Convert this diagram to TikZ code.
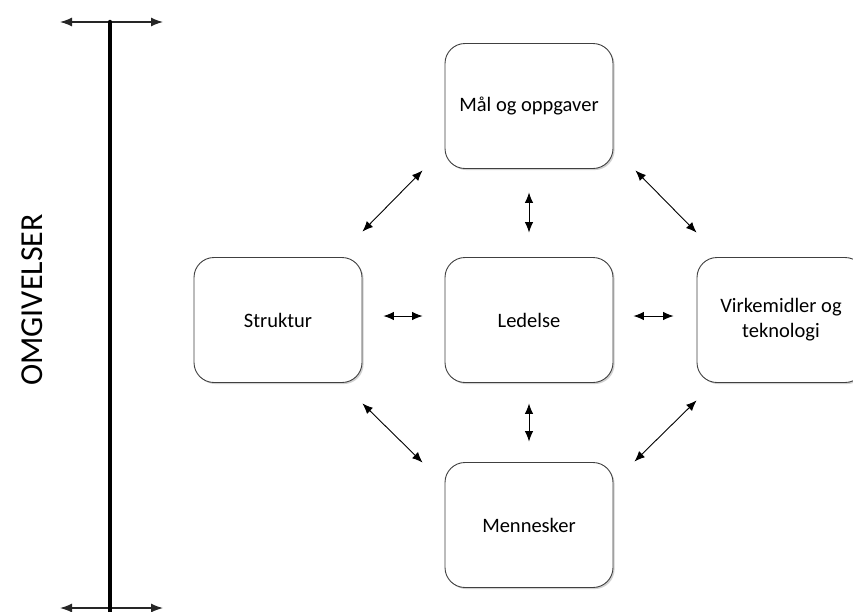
\documentclass[tikz,border=0pt]{standalone}
\usepackage{fontspec}
\setmainfont{Carlito}
\usetikzlibrary{arrows.meta,shadows}

\tikzset{
  box/.style={draw=black!75, line width=0.9pt, fill=white, rounded corners=20pt,
    minimum width=168pt, minimum height=125pt, inner sep=2pt, align=center,
    font=\fontsize{20.5}{25}\selectfont,
    drop shadow={shadow xshift=1.6pt, shadow yshift=-1.6pt, fill=black!30, opacity=0.6}},
  link/.style={line width=0.9pt, {Latex[length=10.5pt,width=8.5pt]}-{Latex[length=10.5pt,width=8.5pt]}},
  axis/.style={line width=1.3pt, black!85, {Latex[length=12pt,width=9pt]}-{Latex[length=12pt,width=9pt]}},
}

\begin{document}
\begin{tikzpicture}[x=1pt,y=-1pt]
  \useasboundingbox (0,0) rectangle (853,611);

  % surroundings axis
  \coordinate (topL) at (60,22);
  \coordinate (topR) at (163,22);
  \coordinate (topM) at (110,22);
  \coordinate (botL) at (60,608);
  \coordinate (botR) at (163,608);
  \coordinate (botM) at (110,620);
  \draw[axis] (topL) -- (topR);
  \draw[axis] (botL) -- (botR);
  \draw[line width=4.5pt, line cap=round] (topM) -- (botM);
  \node[rotate=90, font=\fontsize{32}{38}\selectfont] (omg) at (32,300) {OMGIVELSER};

  % organisation elements
  \node[box] (maal) at (529,106) {Mål og oppgaver};
  \node[box] (ledelse) at (529,320) {Ledelse};
  \node[box] (struktur) at (278,320) {Struktur};
  \node[box] (virk) at (781,320) {Virkemidler og\\teknologi};
  \node[box] (menn) at (529,525) {Mennesker};

  % relations
  \draw[link] ([shift={(0,-25.5)}]struktur.north east) -- ([shift={(-22,1.5)}]maal.south west);
  \draw[link] ([shift={(0,23.5)}]maal.south) -- ([shift={(0,-24.5)}]ledelse.north);
  \draw[link] ([shift={(22,1.5)}]maal.south east) -- ([shift={(0,-24.5)}]virk.north west);
  \draw[link] ([shift={(21,-4)}]struktur.east) -- ([shift={(-22,-4)}]ledelse.west);
  \draw[link] ([shift={(20,-4)}]ledelse.east) -- ([shift={(-23,-4)}]virk.west);
  \draw[link] ([shift={(0,20.5)}]ledelse.south) -- ([shift={(0,-20.5)}]menn.north);
  \draw[link] ([shift={(0,20.5)}]struktur.south east) -- ([shift={(-22,0.5)}]menn.north west);
  \draw[link] ([shift={(21,-0.5)}]menn.north east) -- ([shift={(0,17.5)}]virk.south west);
\end{tikzpicture}
\end{document}
